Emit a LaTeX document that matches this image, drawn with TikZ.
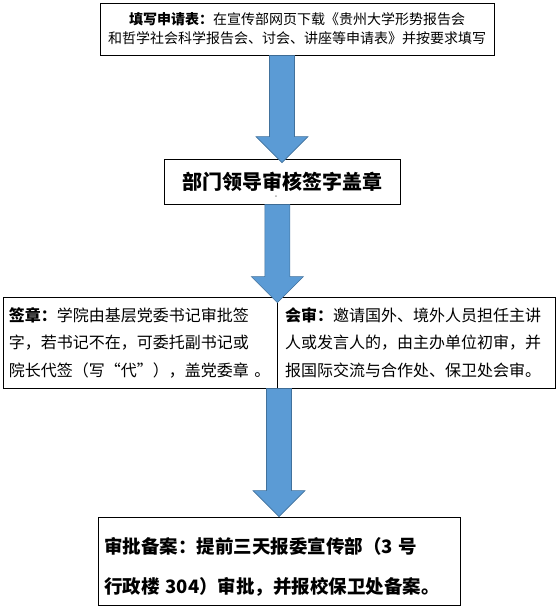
\documentclass[tikz,border=0pt]{standalone}
\usepackage{fontspec}
\setmainfont{Noto Sans CJK SC}
\usetikzlibrary{calc}
\definecolor{arrowblue}{HTML}{5B9BD5}
\definecolor{arrowedge}{HTML}{41719C}

\begin{document}
\begin{tikzpicture}[x=1pt,y=-1pt,line width=0.8pt]
    \tikzset{
        box/.style={
            draw,
            rectangle,
            inner sep=0pt
        },
        bigarrow/.style={
            fill=arrowblue,
            draw=arrowedge,
            line width=0.6pt,
            to path={let \p1=(\tikztostart), \p2=(\tikztotarget) in
                (\x2-12.5pt,\y1) -- (\x2-12.5pt,\y2+26pt) -- (\x2-26pt,\y2+26pt)
                -- (\x2,\y2) -- (\x2+26pt,\y2+26pt) -- (\x2+12.5pt,\y2+26pt)
                -- (\x2+12.5pt,\y1) -- cycle}
        }
    }
    \useasboundingbox (0,0) rectangle (559,608);

    \node[box,minimum width=394pt,minimum height=52pt,align=center,
        font=\fontsize{14}{19}\selectfont] (apply) at (297,29)
        {\textbf{填写申请表：}在宣传部网页下载《贵州大学形势报告会\\
         和哲学社会科学报告会、讨会、讲座等申请表》并按要求填写};
    \node[box,minimum width=236pt,minimum height=45pt,
        font=\fontsize{20}{24}\selectfont\bfseries] (sign) at (282,181.5)
        {部门领导审核签字盖章};
    \node[font=\fontsize{7}{8}\selectfont,inner sep=0pt] (dash) at (276,197) {-};

    \node[box,minimum width=274pt,minimum height=91pt,inner xsep=6pt,
        text width=262pt,align=left,
        font=\fontsize{16}{27.5}\selectfont] (party) at (140,342.5)
        {\textbf{签章：}学院由基层党委书记审批签\\
         字，若书记不在，可委托副书记或\\
         院长代签（写“代”），盖党委章 。};
    \node[box,minimum width=278pt,minimum height=91pt,inner xsep=8pt,
        text width=262pt,align=left,
        font=\fontsize{16}{27.5}\selectfont] (joint) at (416,342.5)
        {\textbf{会审：}邀请国外、境外人员担任主讲\\
         人或发言人的，由主办单位初审，并\\
         报国际交流与合作处、保卫处会审。};

    \node[box,minimum width=362pt,minimum height=88pt,inner xsep=6pt,
        text width=350pt,align=left,
        font=\fontsize{18.5}{40}\selectfont\bfseries] (record) at (279,561)
        {\rule{0pt}{28pt}审批备案：提前三天报委宣传部（3 号\\
         行政楼 304）审批，并报校保卫处备案。};

    \draw[bigarrow] (apply.south) to ([yshift=-4pt]sign.north);
    \draw[bigarrow] (sign.south) to ([yshift=-6pt]party.north east);
    \draw[bigarrow] (party.south east) to (record.north);
\end{tikzpicture}
\end{document}
